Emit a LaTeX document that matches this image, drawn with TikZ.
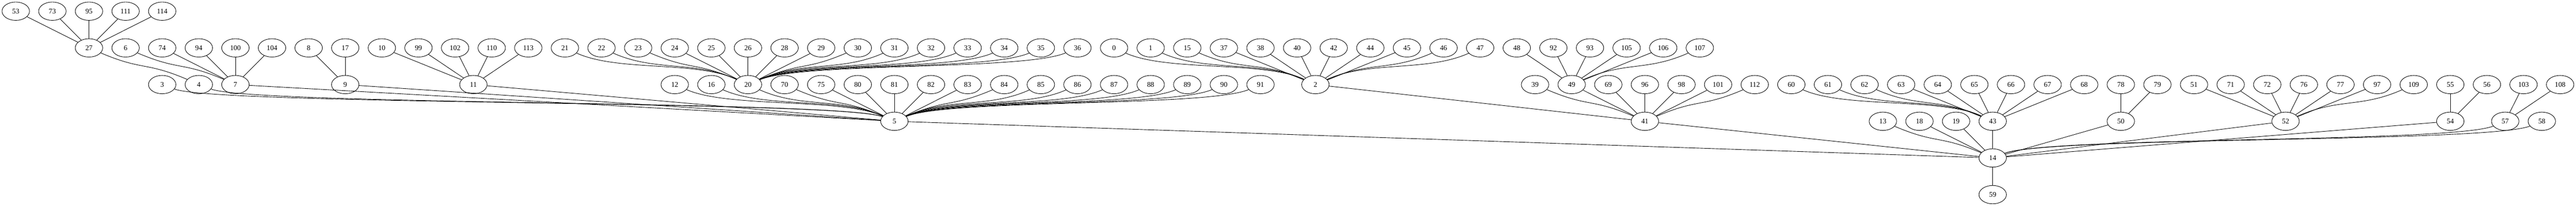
\documentclass[tikz,border=0pt]{standalone}
\usepackage{fontspec}
\setmainfont{Liberation Serif}
\usetikzlibrary{shapes.geometric,calc}

\tikzset{
  vtx/.style={draw,ellipse,line width=0.9pt,minimum width=54pt,minimum height=36pt,inner sep=0pt,font=\fontsize{14}{16}\selectfont},
  wire/.style={line width=0.9pt}
}
% curved link, upper node first
\newcommand\lnk[2]{\draw[wire] let \p1=(n#1), \p2=(n#2),
  \n1={scalar(atan2(0.01*(\y2-\y1),0.01*(\x2-\x1)))},
  \n2={\n1-260*max(0,abs(cos(\n1))-0.93)*cos(\n1)},
  \n3={\n2+180},
  \n4={scalar(min(0.35*(abs(\x2-\x1)+abs(\y2-\y1)),90pt))} in
  (n#1.\n2) .. controls +(\n2:\n4pt) and +(\n3:\n4pt) .. (n#2.\n3);}

\begin{document}
\begin{tikzpicture}[x=72pt,y=-72pt]
\useasboundingbox (-31pt,22pt) rectangle (5035.25pt,-382.25pt);

% rank 0
\node[vtx] (n53) at (0,0) {53};
\node[vtx] (n73) at (1,0) {73};
\node[vtx] (n95) at (2,0) {95};
\node[vtx] (n111) at (3,0) {111};
\node[vtx] (n114) at (4,0) {114};

% rank 1
\node[vtx] (n27) at (2,1) {27};
\node[vtx] (n6) at (3,1) {6};
\node[vtx] (n74) at (4,1) {74};
\node[vtx] (n94) at (5,1) {94};
\node[vtx] (n100) at (6,1) {100};
\node[vtx] (n104) at (7,1) {104};
\node[vtx] (n8) at (8,1) {8};
\node[vtx] (n17) at (9,1) {17};
\node[vtx] (n10) at (10,1) {10};
\node[vtx] (n99) at (11,1) {99};
\node[vtx] (n102) at (12,1) {102};
\node[vtx] (n110) at (13,1) {110};
\node[vtx] (n113) at (14,1) {113};
\node[vtx] (n21) at (15,1) {21};
\node[vtx] (n22) at (16,1) {22};
\node[vtx] (n23) at (17,1) {23};
\node[vtx] (n24) at (18,1) {24};
\node[vtx] (n25) at (19,1) {25};
\node[vtx] (n26) at (20,1) {26};
\node[vtx] (n28) at (21,1) {28};
\node[vtx] (n29) at (22,1) {29};
\node[vtx] (n30) at (23,1) {30};
\node[vtx] (n31) at (24,1) {31};
\node[vtx] (n32) at (25,1) {32};
\node[vtx] (n33) at (26,1) {33};
\node[vtx] (n34) at (27,1) {34};
\node[vtx] (n35) at (28,1) {35};
\node[vtx] (n36) at (29,1) {36};
\node[vtx] (n0) at (30,1) {0};
\node[vtx] (n1) at (31,1) {1};
\node[vtx] (n15) at (32,1) {15};
\node[vtx] (n37) at (33,1) {37};
\node[vtx] (n38) at (34,1) {38};
\node[vtx] (n40) at (35,1) {40};
\node[vtx] (n42) at (36,1) {42};
\node[vtx] (n44) at (37,1) {44};
\node[vtx] (n45) at (38,1) {45};
\node[vtx] (n46) at (39,1) {46};
\node[vtx] (n47) at (40,1) {47};
\node[vtx] (n48) at (41,1) {48};
\node[vtx] (n92) at (42,1) {92};
\node[vtx] (n93) at (43,1) {93};
\node[vtx] (n105) at (44,1) {105};
\node[vtx] (n106) at (45,1) {106};
\node[vtx] (n107) at (46,1) {107};

% rank 2
\node[vtx] (n3) at (4,2) {3};
\node[vtx] (n4) at (5,2) {4};
\node[vtx] (n7) at (6,2) {7};
\node[vtx] (n9) at (9,2) {9};
\node[vtx] (n11) at (12.5,2) {11};
\node[vtx] (n12) at (18,2) {12};
\node[vtx] (n16) at (19,2) {16};
\node[vtx] (n20) at (20,2) {20};
\node[vtx] (n70) at (21,2) {70};
\node[vtx] (n75) at (22,2) {75};
\node[vtx] (n80) at (23,2) {80};
\node[vtx] (n81) at (24,2) {81};
\node[vtx] (n82) at (25,2) {82};
\node[vtx] (n83) at (26,2) {83};
\node[vtx] (n84) at (27,2) {84};
\node[vtx] (n85) at (28,2) {85};
\node[vtx] (n86) at (29,2) {86};
\node[vtx] (n87) at (30,2) {87};
\node[vtx] (n88) at (31,2) {88};
\node[vtx] (n89) at (32,2) {89};
\node[vtx] (n90) at (33,2) {90};
\node[vtx] (n91) at (34,2) {91};
\node[vtx] (n2) at (35.5,2) {2};
\node[vtx] (n39) at (41.5,2) {39};
\node[vtx] (n49) at (42.5,2) {49};
\node[vtx] (n69) at (43.5,2) {69};
\node[vtx] (n96) at (44.5,2) {96};
\node[vtx] (n98) at (45.5,2) {98};
\node[vtx] (n101) at (46.5,2) {101};
\node[vtx] (n112) at (47.5,2) {112};
\node[vtx] (n60) at (48.5,2) {60};
\node[vtx] (n61) at (49.5,2) {61};
\node[vtx] (n62) at (50.5,2) {62};
\node[vtx] (n63) at (51.5,2) {63};
\node[vtx] (n64) at (52.5,2) {64};
\node[vtx] (n65) at (53.5,2) {65};
\node[vtx] (n66) at (54.5,2) {66};
\node[vtx] (n67) at (55.5,2) {67};
\node[vtx] (n68) at (56.5,2) {68};
\node[vtx] (n78) at (57.5,2) {78};
\node[vtx] (n79) at (58.5,2) {79};
\node[vtx] (n51) at (59.5,2) {51};
\node[vtx] (n71) at (60.5,2) {71};
\node[vtx] (n72) at (61.5,2) {72};
\node[vtx] (n76) at (62.5,2) {76};
\node[vtx] (n77) at (63.5,2) {77};
\node[vtx] (n97) at (64.5,2) {97};
\node[vtx] (n109) at (65.5,2) {109};
\node[vtx] (n55) at (66.5,2) {55};
\node[vtx] (n56) at (67.5,2) {56};
\node[vtx] (n103) at (68.5,2) {103};
\node[vtx] (n108) at (69.5,2) {108};

% rank 3
\node[vtx] (n5) at (24,3) {5};
\node[vtx] (n41) at (44.5,3) {41};
\node[vtx] (n13) at (51,3) {13};
\node[vtx] (n18) at (52,3) {18};
\node[vtx] (n19) at (53,3) {19};
\node[vtx] (n43) at (54,3) {43};
\node[vtx] (n50) at (57.5,3) {50};
\node[vtx] (n52) at (62,3) {52};
\node[vtx] (n54) at (66.5,3) {54};
\node[vtx] (n57) at (68,3) {57};
\node[vtx] (n58) at (69,3) {58};

% rank 4 and 5
\node[vtx] (n14) at (54,4) {14};
\node[vtx] (n59) at (54,5) {59};

% links
\lnk{53}{27} \lnk{73}{27} \lnk{95}{27} \lnk{111}{27} \lnk{114}{27}
\lnk{27}{4}
\lnk{6}{7} \lnk{74}{7} \lnk{94}{7} \lnk{100}{7} \lnk{104}{7}
\lnk{8}{9} \lnk{17}{9}
\lnk{10}{11} \lnk{99}{11} \lnk{102}{11} \lnk{110}{11} \lnk{113}{11}
\lnk{21}{20} \lnk{22}{20} \lnk{23}{20} \lnk{24}{20} \lnk{25}{20}
\lnk{26}{20} \lnk{28}{20} \lnk{29}{20} \lnk{30}{20} \lnk{31}{20}
\lnk{32}{20} \lnk{33}{20} \lnk{34}{20} \lnk{35}{20} \lnk{36}{20}
\lnk{0}{2} \lnk{1}{2} \lnk{15}{2} \lnk{37}{2} \lnk{38}{2} \lnk{40}{2}
\lnk{42}{2} \lnk{44}{2} \lnk{45}{2} \lnk{46}{2} \lnk{47}{2}
\lnk{48}{49} \lnk{92}{49} \lnk{93}{49} \lnk{105}{49} \lnk{106}{49} \lnk{107}{49}

\draw[wire] (n7) -- (n5);
\draw[wire] (n9) -- (n5);
\draw[wire] (n11) -- (n5);
\lnk{3}{5} \lnk{4}{5} \lnk{12}{5} \lnk{16}{5} \lnk{20}{5} \lnk{70}{5}
\lnk{75}{5} \lnk{80}{5} \lnk{81}{5} \lnk{82}{5} \lnk{83}{5} \lnk{84}{5}
\lnk{85}{5} \lnk{86}{5} \lnk{87}{5} \lnk{88}{5} \lnk{89}{5} \lnk{90}{5} \lnk{91}{5}

\draw[wire] (n2) -- (n41);
\lnk{39}{41} \lnk{49}{41} \lnk{69}{41} \lnk{96}{41} \lnk{98}{41} \lnk{101}{41} \lnk{112}{41}
\lnk{60}{43} \lnk{61}{43} \lnk{62}{43} \lnk{63}{43} \lnk{64}{43}
\lnk{65}{43} \lnk{66}{43} \lnk{67}{43} \lnk{68}{43}
\lnk{78}{50} \lnk{79}{50}
\lnk{51}{52} \lnk{71}{52} \lnk{72}{52} \lnk{76}{52} \lnk{77}{52} \lnk{97}{52} \lnk{109}{52}
\lnk{55}{54} \lnk{56}{54}
\lnk{103}{57} \lnk{108}{57}

\draw[wire] (n5) -- (n14);
\draw[wire] (n41) -- (n14);
\draw[wire] (n50) -- (n14);
\draw[wire] (n52) -- (n14);
\draw[wire] (n54) -- (n14);
\lnk{13}{14} \lnk{18}{14} \lnk{19}{14} \lnk{43}{14} \lnk{57}{14} \lnk{58}{14}
\lnk{14}{59}
\end{tikzpicture}
\end{document}
